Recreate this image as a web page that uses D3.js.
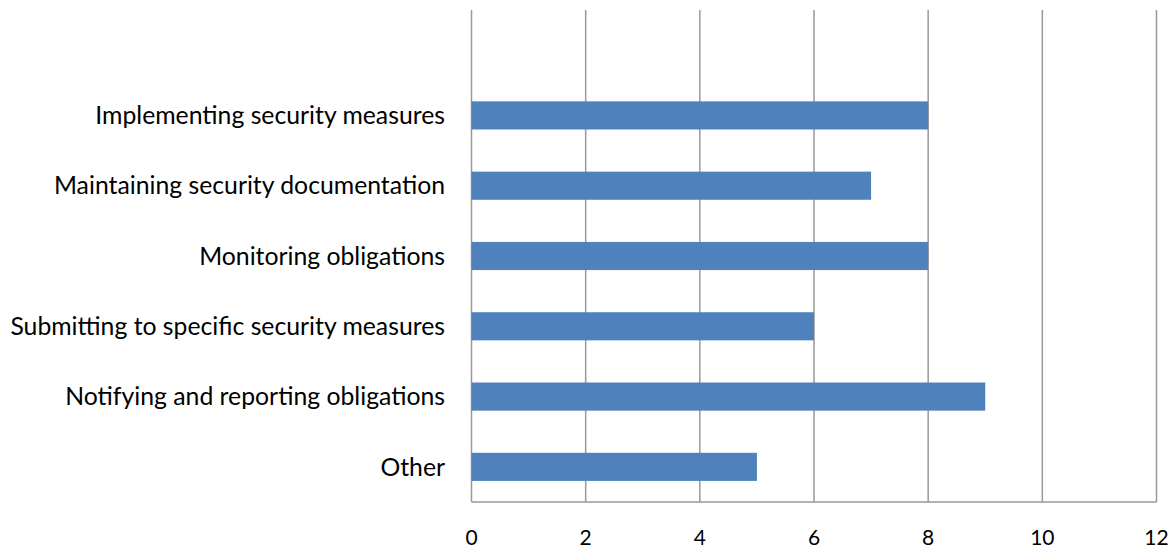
<!DOCTYPE html>
<html><head><meta charset="utf-8">
<script src="https://cdn.jsdelivr.net/npm/d3@7"></script>
<style>html,body{margin:0;padding:0;background:#fff;}svg{display:block;}</style>
</head><body>
<svg id="chart" width="1175" height="549"></svg>
<script>
const categories = ["", "Implementing security measures", "Maintaining security documentation", "Monitoring obligations", "Submitting to specific security measures", "Notifying and reporting obligations", "Other"];
const values = [null, 8, 7, 8, 6, 9, 5];
const tickValues = [0, 2, 4, 6, 8, 10, 12];

(function () {
const svg = d3.select("#chart");
const plotLeft = 471.5, plotRight = 1156.5, plotTop = 10, plotBottom = 502;
const font = "Lato, 'Open Sans', sans-serif";

const x = d3.scaleLinear().domain([0, 12]).range([plotLeft, plotRight]);
const y = d3.scaleBand().domain(categories).range([plotTop, plotBottom]).paddingInner(0.6).paddingOuter(0.3);

// gridlines
svg.append("g").selectAll("line").data(tickValues).join("line")
  .attr("x1", d => x(d)).attr("x2", d => x(d))
  .attr("y1", plotTop).attr("y2", plotBottom)
  .attr("stroke", "#999").attr("stroke-width", 1.5);
// bottom axis line
svg.append("line").attr("x1", plotLeft).attr("x2", plotRight).attr("y1", plotBottom).attr("y2", plotBottom)
  .attr("stroke", "#999").attr("stroke-width", 1.5);

// bars
const data = categories.map((c, i) => ({c, v: values[i]})).filter(d => d.v != null);
svg.append("g").selectAll("rect").data(data).join("rect")
  .attr("x", x(0)).attr("y", d => y(d.c))
  .attr("width", d => x(d.v) - x(0)).attr("height", y.bandwidth())
  .attr("fill", "#4F81BD");

// x tick labels
svg.append("g").selectAll("text").data(tickValues).join("text")
  .attr("x", d => x(d)).attr("y", 538).attr("dy", "0.35em")
  .attr("text-anchor", "middle").attr("font-family", font).attr("font-size", 21)
  .attr("fill", "#000").text(d => d);

// category labels
const labels = svg.append("g").selectAll("text").data(categories.filter(c => c)).join("text")
  .attr("x", 445).attr("y", d => y(d) + y.bandwidth() / 2).attr("dy", "0.35em")
  .attr("text-anchor", "end").attr("font-family", font).attr("font-size", 20)
  .attr("fill", "#000").text(d => d);
let maxW = 0;
labels.each(function(){ maxW = Math.max(maxW, this.getComputedTextLength()); });
labels.attr("font-size", 20 * 435 / maxW);
})();
</script>
</body></html>
